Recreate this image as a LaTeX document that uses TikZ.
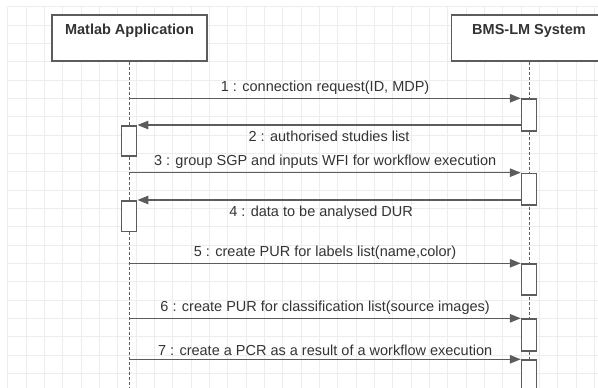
\documentclass[tikz,border=0pt]{standalone}
\usepackage{fontspec}
\setmainfont{Liberation Sans}
\usetikzlibrary{arrows.meta,positioning}
\definecolor{gridgray}{HTML}{EDEDED}
\definecolor{linegray}{HTML}{5C5C5C}
\definecolor{textgray}{HTML}{333333}
\tikzset{
  lifebox/.style={draw=linegray, line width=1.6pt, fill=white, minimum width=155pt, minimum height=46pt, inner sep=0pt},
  boxtitle/.style={font=\bfseries\fontsize{14.5}{17}\selectfont, text=textgray, anchor=base},
  actbox/.style={draw=linegray, line width=1.5pt, fill=white, minimum width=15pt, inner sep=0pt, anchor=north},
  lifeline/.style={draw=linegray, line width=0.9pt, dash pattern=on 3pt off 2pt},
  msg/.style={draw=linegray, line width=1.3pt, -{Triangle[length=11pt,width=8.5pt]}},
  msglabel/.style={font=\fontsize{14.5}{17}\selectfont, text=textgray},
}

\begin{document}
\begin{tikzpicture}[x=1pt, y=-1pt]
			%%%%% START %%%%%
			\useasboundingbox (0,0) rectangle (598,388);
			\clip (0,0) rectangle (598,388);
			
			\draw[gridgray, line width=0.7pt, step=18.33pt, shift={(7.7,6.7)}] (0,0) grid (592,383);
			\coordinate (bottom) at (0,390);
			
			% the two participants
			\node[lifebox] (matlab) at (129.5,38) {};
			\node[boxtitle] (matlabtitle) at ([yshift=-20.7pt]matlab.north) {Matlab Application};
			\node[lifebox] (bms) at (529,38) {};
			\node[boxtitle] (bmstitle) at ([yshift=-20.7pt]bms.north) {BMS-LM System};
			
			\draw[lifeline] (matlab.south) -- (matlab.south |- bottom);
			\draw[lifeline] (bms.south) -- (bms.south |- bottom);
			
			% activations
			\node[actbox, minimum height=31.7pt] (actR1) at (529,98.3) {};
			\node[actbox, minimum height=30pt] (actL1) at (129.2,125) {};
			\node[actbox, minimum height=31.7pt] (actR2) at (529,172.7) {};
			\node[actbox, minimum height=30.7pt] (actL2) at (129.2,200) {};
			\node[actbox, minimum height=30.7pt] (actR3) at (529,263.3) {};
			\node[actbox, minimum height=31.7pt] (actR4) at (529,318.3) {};
			\node[actbox, minimum height=40pt] (actR5) at (529,359.3) {};
			
			% messages
			\draw[msg] (matlab.south |- actR1.north) -- node[msglabel, above] (m1) {1 : connection request(ID, MDP)} (actR1.north west);
			\draw[msg] (actR1.west |- actL1.north) -- node[msglabel, below, yshift=-2pt] (m2) {2 : authorised studies list} (actL1.north east);
			\draw[msg] (matlab.south |- actR2.north) -- node[msglabel, above] (m3) {3 : group SGP and inputs WFI for workflow execution} (actR2.north west);
			\draw[msg] (actR2.west |- actL2.north) -- node[msglabel, below, xshift=-8pt, yshift=-2pt] (m4) {4 : data to be analysed DUR} (actL2.north east);
			\draw[msg] (matlab.south |- actR3.north) -- node[msglabel, above] (m5) {5 : create PUR for labels list(name,color)} (actR3.north west);
			\draw[msg] (matlab.south |- actR4.north) -- node[msglabel, above] (m6) {6 : create PUR for classification list(source images)} (actR4.north west);
			\draw[msg] (matlab.south |- actR5.north) -- node[msglabel, above] (m7) {7 : create a PCR as a result of a workflow execution} (actR5.north west);
			
			%%%%% END %%%%%
\end{tikzpicture}
\end{document}
